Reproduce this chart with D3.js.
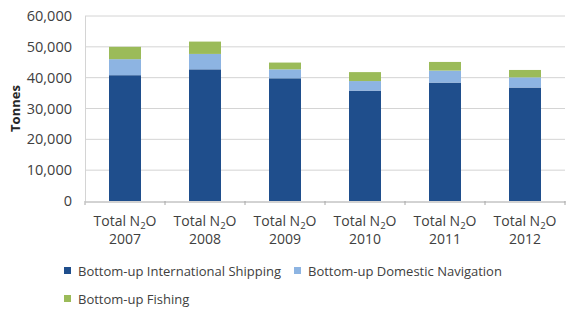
<!DOCTYPE html>
<html><head><meta charset="utf-8">
<script src="https://cdn.jsdelivr.net/npm/d3@7"></script>
<style>
body{margin:0;background:#fff;}
svg{display:block;font-family:"Open Sans",sans-serif;}
</style></head>
<body><svg id="c" width="566" height="309"></svg>
<script>
const years = ["2007","2008","2009","2010","2011","2012"];
const intlShipping = [40800, 42700, 39800, 35800, 38400, 36800];
const domesticNav = [5200, 5000, 2900, 3100, 3900, 3300];
const fishing = [4000, 4000, 2200, 2900, 2800, 2400];
const seriesNames = ["Bottom-up International Shipping","Bottom-up Domestic Navigation","Bottom-up Fishing"];
const yTicks = [0,10000,20000,30000,40000,50000,60000];
const colors = ["#1F4E8C","#8DB4E2","#9BBB59"];

const svg = d3.select("#c");
const m = {l:85, r:1, t:16, b:108};
const W = 566, H = 309;
const x = d3.scaleBand().domain(years).range([m.l, W-m.r]).paddingInner(0.6).paddingOuter(0.3);
const y = d3.scaleLinear().domain([0,60000]).range([H-m.b, m.t]);

// gridlines
svg.append("g").selectAll("line").data(yTicks.slice(1)).join("line")
  .attr("x1", m.l).attr("x2", W-m.r)
  .attr("y1", d=>y(d)).attr("y2", d=>y(d))
  .attr("stroke","#d4d4d4").attr("stroke-width",1);
// left border
svg.append("line").attr("x1",m.l+0.5).attr("x2",m.l+0.5).attr("y1",y(60000)).attr("y2",y(0)).attr("stroke","#d4d4d4");

// y axis
const ya = d3.axisLeft(y).tickValues(yTicks).tickFormat(d3.format(",")).tickSize(0).tickPadding(13);
const yg = svg.append("g").attr("transform",`translate(${m.l},0)`).call(ya);
yg.select(".domain").remove();
yg.selectAll("text").attr("font-size","14.5px").attr("fill","#404040").attr("font-family","Open Sans, sans-serif");

// stacked bars
const rows = years.map((yr,i)=>({year:yr, s0:intlShipping[i], s1:domesticNav[i], s2:fishing[i]}));
const stack = d3.stack().keys(["s0","s1","s2"])(rows);
svg.append("g").selectAll("g").data(stack).join("g").attr("fill",(d,i)=>colors[i])
  .selectAll("rect").data(d=>d).join("rect")
  .attr("x", d=>x(d.data.year)).attr("width", x.bandwidth())
  .attr("y", d=>y(d[1])).attr("height", d=>y(d[0])-y(d[1]));

// x axis
const xa = d3.axisBottom(x).tickSize(0).tickFormat("");
const xg = svg.append("g").attr("transform",`translate(0,${y(0)+0.5})`).call(xa);
xg.select(".domain").attr("stroke","#a6a6a6");
// tick marks between categories
const bounds = d3.range(years.length+1).map(i=>m.l + i*x.step());
svg.append("g").selectAll("line").data(bounds).join("line")
  .attr("x1",d=>d).attr("x2",d=>d).attr("y1",y(0)).attr("y2",y(0)+4).attr("stroke","#a6a6a6");

// category labels
const cl = svg.append("g").attr("font-size","14px").attr("fill","#404040").attr("text-anchor","middle");
years.forEach(yr=>{
  const cx = x(yr)+x.bandwidth()/2;
  const t = cl.append("text").attr("x",cx).attr("y",226);
  t.append("tspan").text("Total N");
  t.append("tspan").text("2").attr("font-size","9.5px").attr("dy",3);
  t.append("tspan").text("O").attr("dy",-3);
  cl.append("text").attr("x",cx).attr("y",244).text(yr);
});

// y title
svg.append("text").attr("transform",`translate(20,${(y(0)+y(60000))/2}) rotate(-90)`)
  .attr("text-anchor","middle").attr("font-size","13px").attr("font-weight","bold").attr("fill","#262626").text("Tonnes");

// legend
const legPos = [[64,271],[294,271],[64,299]];
const lg = svg.append("g").attr("font-size","13px").attr("fill","#404040");
seriesNames.forEach((n,i)=>{
  const [lx,ly] = legPos[i];
  lg.append("rect").attr("x",lx).attr("y",ly-4).attr("width",7).attr("height",7).attr("fill",colors[i]);
  lg.append("text").attr("x",lx+14).attr("y",ly+4.5).text(n);
});
</script></body></html>
